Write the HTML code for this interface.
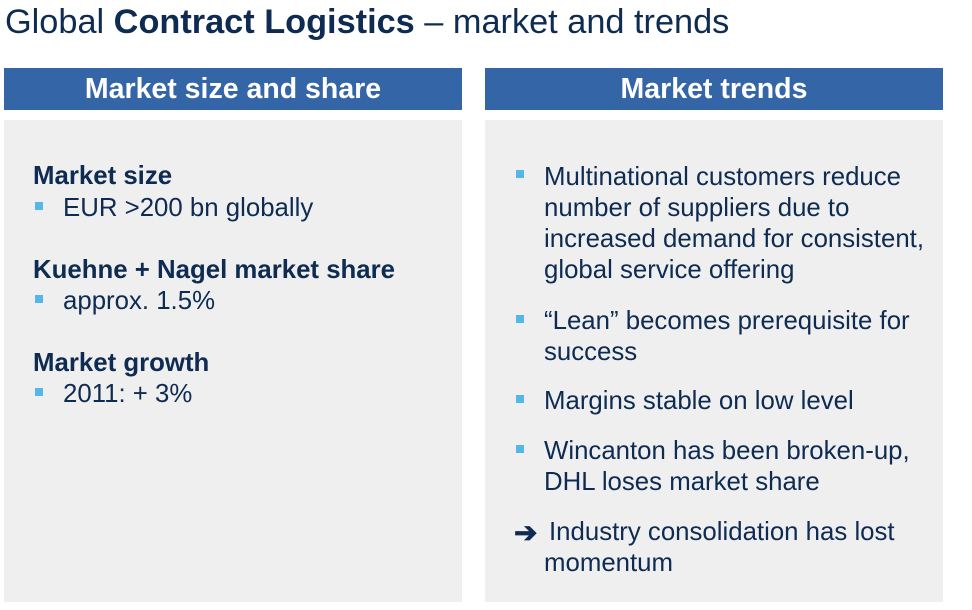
<!DOCTYPE html>
<html><head><meta charset="utf-8"><style>
body{margin:0;width:972px;height:610px;background:#fff;position:relative;overflow:hidden;font-family:"Liberation Sans",sans-serif;color:#0e2b52}
.a{position:absolute;white-space:nowrap}
.hdr{position:absolute;top:68px;height:42px;background:#3465a7;color:#fff;font-weight:bold;font-size:28.5px;line-height:42px;text-align:center}
.panel{position:absolute;top:120px;height:482px;background:#efefef}
.t{position:absolute;font-size:25.8px;line-height:28px;white-space:nowrap}
.b{font-weight:bold}
.sq{position:absolute;width:8px;height:8px;background:#55b6e8}
</style></head><body>
<div class="a" style="left:5px;top:3px;font-size:34.3px;line-height:38px">Global <b>Contract Logistics</b> – market and trends</div>
<div class="hdr" style="left:4px;width:458px">Market size and share</div>
<div class="hdr" style="left:485px;width:458px">Market trends</div>
<div class="panel" style="left:4px;width:458px"></div>
<div class="panel" style="left:485px;width:458px"></div>

<div class="t b" style="left:33px;top:162px">Market size</div>
<div class="sq" style="left:35px;top:202px"></div>
<div class="t" style="left:63px;top:194px">EUR &gt;200 bn globally</div>
<div class="t b" style="left:33px;top:256px">Kuehne + Nagel market share</div>
<div class="sq" style="left:35px;top:295px"></div>
<div class="t" style="left:63px;top:287px">approx. 1.5%</div>
<div class="t b" style="left:33px;top:349px">Market growth</div>
<div class="sq" style="left:35px;top:388px"></div>
<div class="t" style="left:63px;top:380px">2011: + 3%</div>

<div class="sq" style="left:516px;top:170px"></div>
<div class="t" style="left:544px;top:162px;line-height:31px">Multinational customers reduce<br>number of suppliers due to<br>increased demand for consistent,<br>global service offering</div>
<div class="sq" style="left:516px;top:315px"></div>
<div class="t" style="left:544px;top:306px;line-height:31px">“Lean” becomes prerequisite for<br>success</div>
<div class="sq" style="left:516px;top:395px"></div>
<div class="t" style="left:544px;top:386px;line-height:31px">Margins stable on low level</div>
<div class="sq" style="left:516px;top:445px"></div>
<div class="t" style="left:544px;top:436px;line-height:31px">Wincanton has been broken-up,<br>DHL loses market share</div>
<div class="t b" style="left:514px;top:517px;line-height:31px;font-size:28px">➔</div>
<div class="t" style="left:549px;top:517px;line-height:31px">Industry consolidation has lost</div>
<div class="t" style="left:544px;top:548px;line-height:31px">momentum</div>
</body></html>
